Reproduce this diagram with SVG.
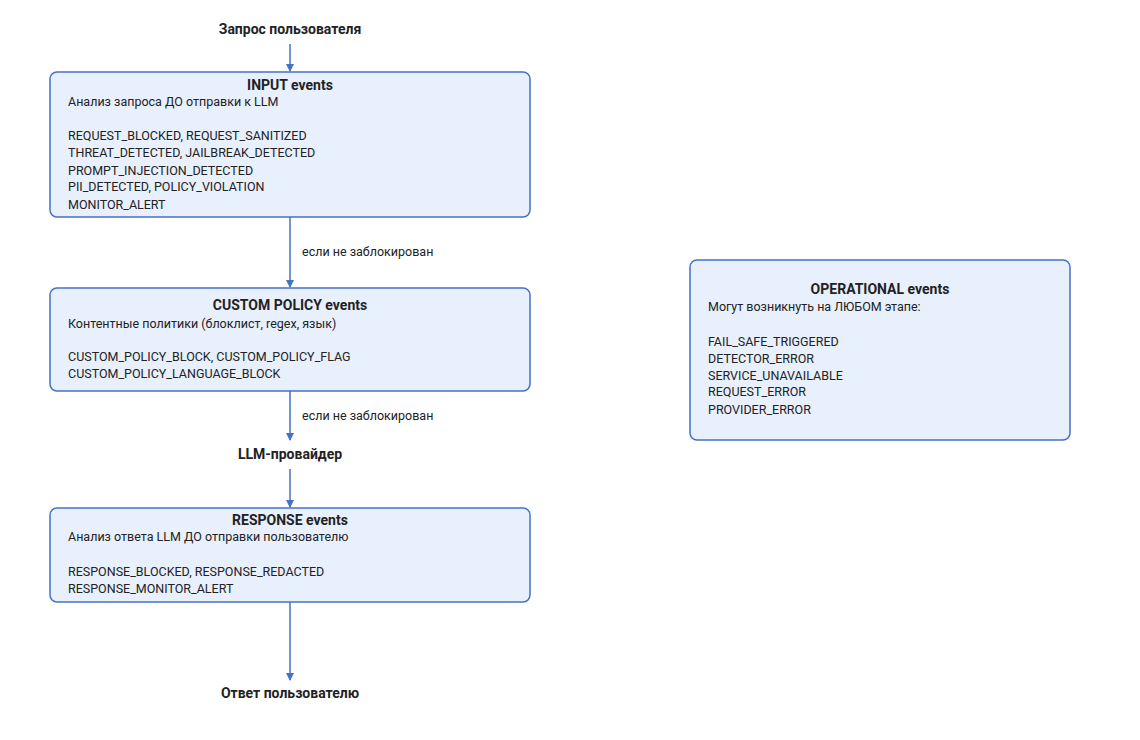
<svg xmlns="http://www.w3.org/2000/svg" width="1140" height="740" viewBox="0 0 1140 740">
<defs>
<marker id="ah" markerWidth="8" markerHeight="8" refX="7" refY="4" orient="auto" markerUnits="userSpaceOnUse"><path d="M0,0 L8,4 L0,8 Z" fill="#4472c4"/></marker>
<style>
.box{fill:#e8f0fe;stroke:#4472c4;stroke-width:1.5}
.t{font-family:Roboto,"Liberation Sans",sans-serif;font-size:14px;font-weight:bold;fill:#222;text-anchor:middle}
.b{font-family:Roboto,"Liberation Sans",sans-serif;font-size:12.5px;fill:#222}
.c{stroke:#4472c4;stroke-width:1.5;fill:none;marker-end:url(#ah)}
</style>
</defs>
<rect width="1140" height="740" fill="#fff"/>
<g id="connectors">
<path class="c" d="M290,44 V71"/>
<path class="c" d="M290,217 V287"/>
<text class="b" x="302" y="256">если не заблокирован</text>
<path class="c" d="M290,391 V440"/>
<text class="b" x="302" y="420">если не заблокирован</text>
<path class="c" d="M290,469 V507"/>
<path class="c" d="M290,602 V680"/>
</g>
<g id="start"><text class="t" x="290" y="34">Запрос пользователя</text></g>
<g id="input">
<rect class="box" x="50" y="72" width="480" height="145" rx="7"/>
<text class="t" x="290" y="90">INPUT events</text>
<text class="b" x="68" y="106">Анализ запроса ДО отправки к LLM</text>
<text class="b" x="68" y="140">REQUEST_BLOCKED, REQUEST_SANITIZED</text>
<text class="b" x="68" y="157">THREAT_DETECTED, JAILBREAK_DETECTED</text>
<text class="b" x="68" y="175">PROMPT_INJECTION_DETECTED</text>
<text class="b" x="68" y="191">PII_DETECTED, POLICY_VIOLATION</text>
<text class="b" x="68" y="209">MONITOR_ALERT</text>
</g>
<g id="custom">
<rect class="box" x="50" y="288" width="480" height="103" rx="7"/>
<text class="t" x="290" y="310">CUSTOM POLICY events</text>
<text class="b" x="68" y="328">Контентные политики (блоклист, regex, язык)</text>
<text class="b" x="68" y="361">CUSTOM_POLICY_BLOCK, CUSTOM_POLICY_FLAG</text>
<text class="b" x="68" y="378">CUSTOM_POLICY_LANGUAGE_BLOCK</text>
</g>
<g id="llm"><text class="t" x="290" y="459">LLM-провайдер</text></g>
<g id="response">
<rect class="box" x="50" y="508" width="480" height="94" rx="7"/>
<text class="t" x="290" y="525">RESPONSE events</text>
<text class="b" x="68" y="541">Анализ ответа LLM ДО отправки пользователю</text>
<text class="b" x="68" y="576">RESPONSE_BLOCKED, RESPONSE_REDACTED</text>
<text class="b" x="68" y="593">RESPONSE_MONITOR_ALERT</text>
</g>
<g id="end"><text class="t" x="290" y="698">Ответ пользователю</text></g>
<g id="operational">
<rect class="box" x="690" y="260" width="380" height="180" rx="7"/>
<text class="t" x="880" y="294">OPERATIONAL events</text>
<text class="b" x="708" y="311">Могут возникнуть на ЛЮБОМ этапе:</text>
<text class="b" x="708" y="346">FAIL_SAFE_TRIGGERED</text>
<text class="b" x="708" y="363">DETECTOR_ERROR</text>
<text class="b" x="708" y="380">SERVICE_UNAVAILABLE</text>
<text class="b" x="708" y="396">REQUEST_ERROR</text>
<text class="b" x="708" y="414">PROVIDER_ERROR</text>
</g>
</svg>
